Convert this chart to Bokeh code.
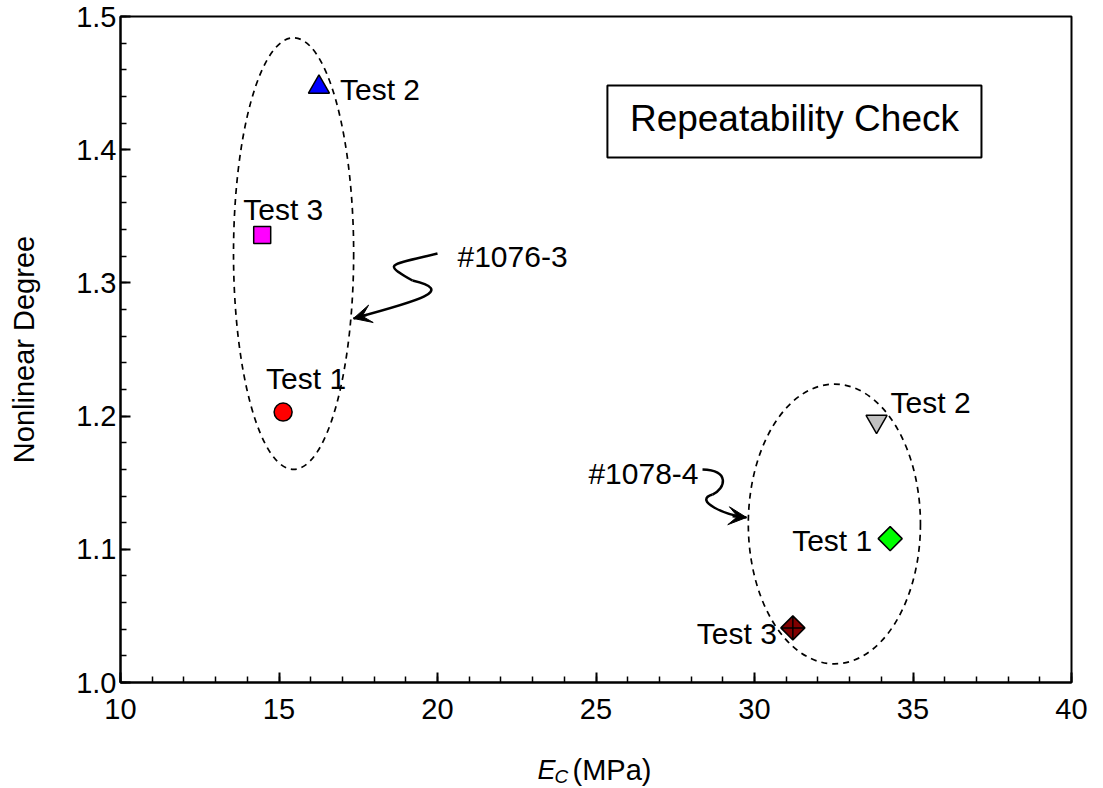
import numpy as np
from bokeh.plotting import figure
from bokeh.layouts import column
from bokeh.models import (Range1d, SingleIntervalTicker, NumeralTickFormatter, Label,
                          Arrow, VeeHead, BoxAnnotation, ColumnDataSource)
from bokeh.core.properties import value
from bokeh.embed import file_html
from bokeh.resources import INLINE

FONT = "Liberation Sans"

# ---------------- data ----------------
tests = ["Test 1", "Test 2", "Test 3"]
ec_1076 = [15.13, 16.26, 14.47]
nd_1076 = [1.203, 1.447, 1.336]
ec_1078 = [34.28, 33.85, 31.21]
nd_1078 = [1.108, 1.196, 1.041]

specimens = ["#1076-3", "#1078-4"]
ell_x = [15.46, 32.52]
ell_y = [1.322, 1.119]
ell_w = [3.79, 5.43]
ell_h = [0.324, 0.210]

x_ticks = [10, 15, 20, 25, 30, 35, 40]
y_ticks = [1.0, 1.1, 1.2, 1.3, 1.4, 1.5]

# ---------------- styles ----------------
markers_1076 = ["circle", "triangle", "square"]
colors_1076 = ["#ff0000", "#0000ff", "#ff00ff"]
sizes_1076 = [18, 21, 17]
angles_1076 = [0, 0, 0]
lx_1076 = [-17, 21, -19]
ly_1076 = [-34, 2, -25]
la_1076 = ["left", "left", "left"]

markers_1078 = ["square", "inverted_triangle", "square_x"]
colors_1078 = ["#00ff00", "#c0c0c0", "#800000"]
sizes_1078 = [17, 21, 17]
angles_1078 = [np.pi / 4, 0, np.pi / 4]
lx_1078 = [-18, 14, -16]
ly_1078 = [2, -19, 6]
la_1078 = ["right", "left", "right"]

p = figure(frame_width=951, frame_height=666, output_backend="svg", toolbar_location=None,
           x_range=Range1d(10, 40), y_range=Range1d(1.0, 1.5),
           min_border_left=120, min_border_right=17, min_border_top=16, min_border_bottom=60)
p.background_fill_color = "white"
p.border_fill_color = "white"
p.outline_line_color = "black"
p.outline_line_width = 2
p.xgrid.visible = False
p.ygrid.visible = False

p.xaxis.ticker = SingleIntervalTicker(interval=5, num_minor_ticks=5)
p.yaxis.ticker = SingleIntervalTicker(interval=0.1, num_minor_ticks=5)
p.yaxis.formatter = NumeralTickFormatter(format="0.0")
for ax in (p.xaxis[0], p.yaxis[0]):
    ax.axis_line_width = 2
    ax.axis_line_color = "black"
    ax.major_tick_in = 10
    ax.major_tick_out = 0
    ax.minor_tick_in = 6
    ax.minor_tick_out = 0
    ax.major_tick_line_width = 2
    ax.minor_tick_line_width = 1.5
    ax.major_tick_line_color = "black"
    ax.minor_tick_line_color = "black"
    ax.major_label_text_font = FONT
    ax.major_label_text_font_size = "29px"
    ax.major_label_text_color = "black"
p.xaxis.major_label_standoff = 16
p.yaxis.major_label_standoff = 4
p.yaxis.axis_label = "Nonlinear Degree"
p.yaxis.axis_label_text_font = FONT
p.yaxis.axis_label_text_font_size = "29px"
p.yaxis.axis_label_text_font_style = "normal"
p.yaxis.axis_label_text_color = "black"
p.yaxis.axis_label_standoff = 33

# ellipses
p.ellipse(x=ell_x, y=ell_y, width=ell_w, height=ell_h, fill_color=None,
          line_color="black", line_width=1.7, line_dash="6 5")

# points
for ex, nd, mk, col, sz, ang, lx, ly, la in [
        (ec_1076, nd_1076, markers_1076, colors_1076, sizes_1076, angles_1076, lx_1076, ly_1076, la_1076),
        (ec_1078, nd_1078, markers_1078, colors_1078, sizes_1078, angles_1078, lx_1078, ly_1078, la_1078)]:
    src = ColumnDataSource(dict(x=ex, y=nd, marker=mk, color=col, size=sz, angle=ang,
                                lx=lx, ly=ly, la=la, label=tests))
    p.text(x="x", y="y", text="label", x_offset="lx", y_offset="ly", text_align="la",
           text_baseline="middle", text_font=value(FONT), text_font_size="30px",
           text_color="black", source=src)
    p.scatter(x="x", y="y", marker="marker", fill_color="color", size="size", angle="angle",
              line_color="black", line_width=1.5, source=src)

# curved arrows
p.bezier(x0=[20.000, 19.211], y0=[1.3221, 1.3018],
         cx0=[18.517, 20.568], cy0=[1.3131, 1.2943],
         cx1=[18.202, 19.464], cy1=[1.3153, 1.2868],
         x1=[19.211, 17.350], y1=[1.3018, 1.2733],
         line_color="black", line_width=2.5)
p.bezier(x0=[28.360, 28.675], y0=[1.1599, 1.1411],
         cx0=[29.243, 28.044], cy0=[1.1592, 1.1366],
         cx1=[29.085, 29.085], cy1=[1.1456, 1.1254],
         x1=[28.675, 29.748], y1=[1.1411, 1.1239],
         line_color="black", line_width=2.5)
p.add_layout(Arrow(end=VeeHead(size=18, fill_color="black", line_color="black"),
                   x_start=17.776, y_start=1.2760, x_end=17.350, y_end=1.2733,
                   line_color="black", line_width=2.5))
p.add_layout(Arrow(end=VeeHead(size=18, fill_color="black", line_color="black"),
                   x_start=29.309, y_start=1.1249, x_end=29.748, y_end=1.1239,
                   line_color="black", line_width=2.5))

p.add_layout(Label(x=20.63, y=1.3198, text=specimens[0], text_font=FONT, text_font_size="30px",
                   text_baseline="middle", text_align="left", text_color="black"))
p.add_layout(Label(x=24.76, y=1.157, text=specimens[1], text_font=FONT, text_font_size="30px",
                   text_baseline="middle", text_align="left", text_color="black"))

# title box
p.add_layout(BoxAnnotation(left=25.36, right=37.16, bottom=1.3941, top=1.4482,
                           fill_alpha=0, line_color="black", line_alpha=1, line_width=2))
p.add_layout(Label(x=31.26, y=1.4234, text="Repeatability Check", text_font=FONT,
                   text_font_size="37px", text_baseline="middle", text_align="center",
                   text_color="black"))

# x axis label strip: E_C (MPa)
p2 = figure(frame_width=951, frame_height=46, output_backend="svg", toolbar_location=None,
            x_range=Range1d(0, 951), y_range=Range1d(0, 46),
            x_axis_type=None, y_axis_type=None,
            min_border_left=120, min_border_right=17, min_border_top=0, min_border_bottom=0)
p2.outline_line_color = None
p2.grid.visible = False
p2.background_fill_color = "white"
p2.border_fill_color = "white"
p2.add_layout(Label(x=417, y=19, text="E", text_font=FONT, text_font_size="27px",
                    text_font_style="italic", text_baseline="alphabetic", text_color="black"))
p2.add_layout(Label(x=434, y=12, text="C", text_font=FONT, text_font_size="19px",
                    text_font_style="italic", text_baseline="alphabetic", text_color="black"))
p2.add_layout(Label(x=452, y=19, text="(MPa)", text_font=FONT, text_font_size="29px",
                    text_baseline="alphabetic", text_color="black"))

layout = column(p, p2, spacing=0)
open("out.html", "w").write(file_html(layout, INLINE))
